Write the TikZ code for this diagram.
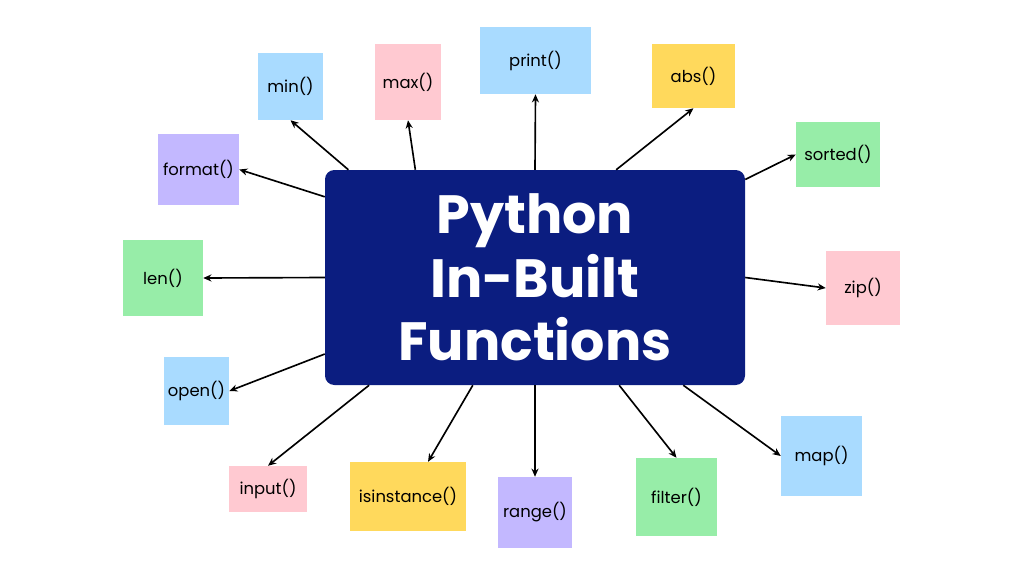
\documentclass[tikz,border=0pt]{standalone}
\usepackage{fontspec}
\setmainfont{Poppins}
\definecolor{hubblue}{HTML}{0B1D80}
\definecolor{skyc}{HTML}{A9DBFF}
\definecolor{pinkc}{HTML}{FFC9D1}
\definecolor{yellc}{HTML}{FFD95C}
\definecolor{greenc}{HTML}{97EDA8}
\definecolor{purpc}{HTML}{C3B8FF}
\tikzset{
  fn/.style={inner sep=0pt, font=\fontsize{14}{16}\selectfont},
  arr/.style={-{Stealth[length=7pt,width=6pt]}, line width=1.4pt, black}
}
\usetikzlibrary{arrows.meta}
\begin{document}
\begin{tikzpicture}[x=0.03cm, y=-0.03cm]
  \useasboundingbox (0,0) rectangle (1024,576);
  % centre
  \node (hub) [fill=hubblue, rounded corners=8pt, minimum width=420*0.03cm, minimum height=215*0.03cm,
    text=white, align=center, font=\fontsize{46}{54}\selectfont\bfseries] at (535,277.5)
    {Python\\In-Built\\Functions};
  % boxes
  \node (min) [fn, fill=skyc, minimum width=65*0.03cm, minimum height=67*0.03cm] at (290.5,86.5) {min()};
  \node (max) [fn, fill=pinkc, minimum width=66*0.03cm, minimum height=76*0.03cm] at (408,82) {max()};
  \node (print) [fn, fill=skyc, minimum width=111*0.03cm, minimum height=67*0.03cm] at (535.5,60.5) {print()};
  \node (abs) [fn, fill=yellc, minimum width=83*0.03cm, minimum height=64*0.03cm] at (693.5,76) {abs()};
  \node (sorted) [fn, fill=greenc, minimum width=84*0.03cm, minimum height=65*0.03cm] at (838,154.5) {sorted()};
  \node (format) [fn, fill=purpc, minimum width=81*0.03cm, minimum height=71*0.03cm] at (198.5,169.5) {format()};
  \node (len) [fn, fill=greenc, minimum width=80*0.03cm, minimum height=76*0.03cm] at (163,278) {len()};
  \node (zip) [fn, fill=pinkc, minimum width=74*0.03cm, minimum height=74*0.03cm] at (863,288) {zip()};
  \node (open) [fn, fill=skyc, minimum width=65*0.03cm, minimum height=68*0.03cm] at (196.5,391) {open()};
  \node (input) [fn, fill=pinkc, minimum width=78*0.03cm, minimum height=46*0.03cm] at (268,489) {input()};
  \node (isinst) [fn, fill=yellc, minimum width=116*0.03cm, minimum height=69*0.03cm] at (408,496.5) {isinstance()};
  \node (range) [fn, fill=purpc, minimum width=74*0.03cm, minimum height=71*0.03cm] at (535,512.5) {range()};
  \node (filter) [fn, fill=greenc, minimum width=81*0.03cm, minimum height=78*0.03cm] at (676.5,497) {filter()};
  \node (map) [fn, fill=skyc, minimum width=81*0.03cm, minimum height=80*0.03cm] at (821.5,456) {map()};
  % arrows
  \draw [arr] (hub.150) -- (min.south);
  \draw [arr] (hub.138) -- (max.south);
  \draw [arr] (hub.north) -- (print.south);
  \draw [arr] (hub.53) -- (abs.south);
  \draw [arr] (hub.25) -- (sorted.west);
  \draw [arr] (hub.159) -- (format.east);
  \draw [arr] (hub.west) -- (len.east);
  \draw [arr] (hub.east) -- (zip.west);
  \draw [arr] (hub.200) -- (open.east);
  \draw [arr] (hub.213) -- (input.north);
  \draw [arr] (hub.240) -- (isinst.60);
  \draw [arr] (hub.south) -- (range.north);
  \draw [arr] (hub.308) -- (filter.north);
  \draw [arr] (hub.324) -- (map.west);
\end{tikzpicture}
\end{document}
